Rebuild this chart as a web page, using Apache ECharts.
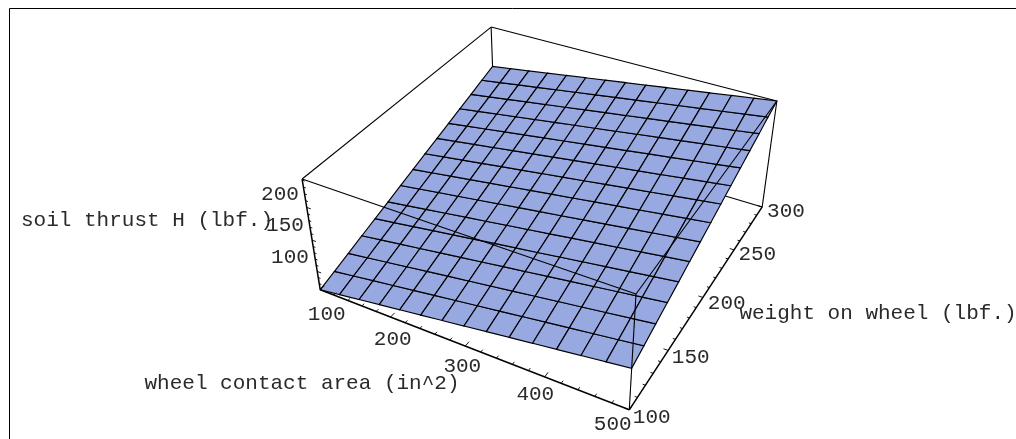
<!DOCTYPE html>
<html>
<head>
<meta charset="utf-8">
<style>html,body{margin:0;padding:0;background:#fff}#c{width:1016px;height:439px}</style>
<script src="https://cdn.jsdelivr.net/npm/echarts@6/dist/echarts.min.js"></script>
</head>
<body>
<div id="c"></div>
<script>
// ---- data ----
const areaValues = [100,128.57,157.14,185.71,214.29,242.86,271.43,300,328.57,357.14,385.71,414.29,442.86,471.43,500];
const weightValues = [100,114.29,128.57,142.86,157.14,171.43,185.71,200,214.29,228.57,242.86,257.14,271.43,285.71,300];
// thrust H: one row per weight value, one column per area value
const thrustRow0 = [69.8,74.4,79.1,83.7,88.4,93.0,97.7,102.3,106.9,111.6,116.2,120.8,125.5,130.1,134.8];
const thrustRow1 = [77.4,82.0,86.7,91.3,96.0,100.6,105.3,109.9,114.5,119.2,123.8,128.4,133.1,137.7,142.4];
const thrustRow2 = [85.0,89.6,94.3,98.9,103.6,108.2,112.9,117.5,122.1,126.8,131.4,136.0,140.7,145.3,150.0];
const thrustRow3 = [92.7,97.3,102.0,106.6,111.3,115.9,120.6,125.2,129.8,134.5,139.1,143.7,148.4,153.0,157.7];
const thrustRow4 = [100.3,104.9,109.6,114.2,118.9,123.5,128.2,132.8,137.4,142.1,146.7,151.3,156.0,160.6,165.3];
const thrustRow5 = [108.0,112.6,117.3,121.9,126.6,131.2,135.9,140.5,145.1,149.8,154.4,159.0,163.7,168.3,173.0];
const thrustRow6 = [115.6,120.2,124.9,129.5,134.2,138.8,143.5,148.1,152.7,157.4,162.0,166.6,171.3,175.9,180.6];
const thrustRow7 = [123.2,127.8,132.5,137.1,141.8,146.4,151.1,155.7,160.3,165.0,169.6,174.2,178.9,183.5,188.2];
const thrustRow8 = [130.9,135.5,140.2,144.8,149.5,154.1,158.8,163.4,168.0,172.7,177.3,181.9,186.6,191.2,195.9];
const thrustRow9 = [138.5,143.1,147.8,152.4,157.1,161.7,166.4,171.0,175.6,180.3,184.9,189.5,194.2,198.8,203.5];
const thrustRow10 = [146.2,150.8,155.5,160.1,164.8,169.4,174.1,178.7,183.3,188.0,192.6,197.2,201.9,206.5,211.2];
const thrustRow11 = [153.8,158.4,163.1,167.7,172.4,177.0,181.7,186.3,190.9,195.6,200.2,204.8,209.5,214.1,218.8];
const thrustRow12 = [161.4,166.0,170.7,175.3,180.0,184.6,189.3,193.9,198.5,203.2,207.8,212.4,217.1,221.7,226.4];
const thrustRow13 = [169.1,173.7,178.4,183.0,187.7,192.3,197.0,201.6,206.2,210.9,215.5,220.1,224.8,229.4,234.1];
const thrustRow14 = [176.7,181.3,186.0,190.6,195.3,199.9,204.6,209.2,213.8,218.5,223.1,227.7,232.4,237.0,241.7];
const thrust = [thrustRow0,thrustRow1,thrustRow2,thrustRow3,thrustRow4,thrustRow5,thrustRow6,thrustRow7,thrustRow8,thrustRow9,thrustRow10,thrustRow11,thrustRow12,thrustRow13,thrustRow14];

const areaTicks = [100,200,300,400,500];
const weightTicks = [100,150,200,250,300];
const thrustTicks = [100,150,200];
const areaMinorTicks = [120,140,160,180,220,240,260,280,320,340,360,380,420,440,460,480];
const weightMinorTicks = [110,120,130,140,160,170,180,190,210,220,230,240,260,270,280,290];
const thrustMinorTicks = [80,90,110,120,130,140,160,170,180,190,210,220,230,240];

const areaTitle = 'wheel contact area (in^2)';
const weightTitle = 'weight on wheel (lbf.)';
const thrustTitle = 'soil thrust H (lbf.)';

const areaRange = [100,500], weightRange = [100,300], thrustRange = [69.8,241.7];

// ---- viewing calibration: where the box in unit coordinates falls on the page ----
const viewAnchors = [
 [0,0,0,320,289.5],[1,0,0,629.3,410.7],[0,0,1,302.3,179],[1,0,1,636,295],
 [1,1,0,762.3,206.7],[1,1,1,776.7,101],[0,1,1,491,26],[0,1,0.622,492.7,67.7],[1,0,0.378,631.7,366.7]
];
function solveView(pts){
  const rows=[],rhs=[];
  pts.forEach(([u,v,w,x,y])=>{
    rows.push([u,v,w,1,0,0,0,0,-x*u,-x*v,-x*w]);rhs.push(x);
    rows.push([0,0,0,0,u,v,w,1,-y*u,-y*v,-y*w]);rhs.push(y);
  });
  const n=11,M=[];
  for(let i=0;i<n;i++){M.push(new Array(n+1).fill(0));
    for(let j=0;j<n;j++)rows.forEach(r=>M[i][j]+=r[i]*r[j]);
    rows.forEach((r,k)=>M[i][n]+=r[i]*rhs[k]);}
  for(let c=0;c<n;c++){
    let p=c;for(let i=c+1;i<n;i++)if(Math.abs(M[i][c])>Math.abs(M[p][c]))p=i;
    [M[c],M[p]]=[M[p],M[c]];
    for(let i=0;i<n;i++){if(i===c)continue;const f=M[i][c]/M[c][c];for(let j=c;j<=n;j++)M[i][j]-=f*M[c][j];}
  }
  return M.map((r,i)=>r[n]/r[i]);
}
const P = solveView(viewAnchors);
function unitProject(u,v,w){
  const d=P[8]*u+P[9]*v+P[10]*w+1;
  return [(P[0]*u+P[1]*v+P[2]*w+P[3])/d,(P[4]*u+P[5]*v+P[6]*w+P[7])/d];
}
const U=a=>(a-areaRange[0])/(areaRange[1]-areaRange[0]);
const V=b=>(b-weightRange[0])/(weightRange[1]-weightRange[0]);
const W=h=>(h-thrustRange[0])/(thrustRange[1]-thrustRange[0]);

const ink='#000', fill='#98a8e0', textInk='#2a2a2a';
const FONT='21px "Liberation Mono", monospace';

// box edges in unit coordinates
const backEdges=[[[0,1,0],[1,1,0]],[[0,0,0],[0,1,0]],[[0,1,0],[0,1,1]],[[0,0,1],[0,1,1]],[[0,1,1],[1,1,1]]];
const frontEdges=[[[0,0,1],[1,0,1]],[[1,0,1],[1,1,1]],[[1,0,0],[1,0,1]],[[1,1,0],[1,1,1]]];
const axisEdges=[[[0,0,0],[0,0,1]],[[0,0,0],[1,0,0]],[[1,0,0],[1,1,0]]];

const tickSegs=[];
const addTicks=(list,len)=>{
  list.a.forEach(a=>tickSegs.push([[U(a),0,0],[U(a),len.v,0]]));
  list.b.forEach(b=>tickSegs.push([[1,V(b),0],[1-len.u,V(b),0]]));
  list.c.forEach(c=>tickSegs.push([[0,0,W(c)],[len.u,0,W(c)]]));
};
addTicks({a:areaTicks,b:weightTicks,c:thrustTicks},{u:0.014,v:0.02});
addTicks({a:areaMinorTicks,b:weightMinorTicks,c:thrustMinorTicks},{u:0.008,v:0.011});

const cells=[];
for(let j=0;j<weightValues.length-1;j++)for(let i=0;i<areaValues.length-1;i++)cells.push([i,j]);

function segSeries(name,segs,width,z){
  return {type:'custom',name,coordinateSystem:'cartesian2d',silent:true,clip:false,z,animation:false,
    data:segs.map((s,i)=>[i]),
    renderItem:(p,api)=>{
      const s=segs[api.value(0)];
      const a=api.coord(unitProject(...s[0])),b=api.coord(unitProject(...s[1]));
      return {type:'line',shape:{x1:a[0],y1:a[1],x2:b[0],y2:b[1]},style:{stroke:ink,lineWidth:width}};
    }};
}
// label entries: text, page centre
const labels=[
 ...areaTicks.map((t,i)=>[String(t),[[326.7,314],[392.7,339],[462.3,366],[535.3,394],[612.7,424]][i]]),
 ...weightTicks.map((t,i)=>[String(t),[[651.7,417],[690.7,357],[726.7,303.3],[757.3,254.3],[786,211.7]][i]]),
 ...thrustTicks.map((t,i)=>[String(t),[[290,257.3],[285,225],[280,194]][i]]),
 [thrustTitle,[147,220.7]],[areaTitle,[302,383]],[weightTitle,[878,313]]
];

const option={
  animation:false,
  backgroundColor:'#fff',
  grid:{left:0,right:0,top:0,bottom:0},
  xAxis:{type:'value',min:0,max:1016,show:false},
  yAxis:{type:'value',min:0,max:439,inverse:true,show:false},
  graphic:[
    {type:'line',shape:{x1:9.5,y1:8.5,x2:1016,y2:8.5},style:{stroke:ink,lineWidth:1}},
    {type:'line',shape:{x1:9.5,y1:8.5,x2:9.5,y2:439},style:{stroke:ink,lineWidth:1}}
  ],
  series:[
    segSeries('box back',backEdges,1.1,1),
    {type:'custom',name:'soil thrust H',coordinateSystem:'cartesian2d',silent:true,clip:false,z:2,animation:false,
     data:cells,
     renderItem:(p,api)=>{
       const i=api.value(0),j=api.value(1);
       const pt=(ii,jj)=>api.coord(unitProject(U(areaValues[ii]),V(weightValues[jj]),W(thrust[jj][ii])));
       return {type:'polygon',shape:{points:[pt(i,j),pt(i+1,j),pt(i+1,j+1),pt(i,j+1)]},
               style:{fill:fill,stroke:ink,lineWidth:1.15}};
     }},
    segSeries('box front',frontEdges,1.1,3),
    segSeries('axes',axisEdges,1.5,3),
    segSeries('ticks',tickSegs,0.9,3),
    {type:'custom',name:'labels',coordinateSystem:'cartesian2d',silent:true,clip:false,z:4,animation:false,
     data:labels.map((l,i)=>[i]),
     renderItem:(p,api)=>{
       const l=labels[api.value(0)],c=api.coord(l[1]);
       return {type:'text',style:{text:l[0],x:c[0],y:c[1],font:FONT,fill:textInk,align:'center',verticalAlign:'middle'}};
     }}
  ]
};
const chart=echarts.init(document.getElementById('c'),null,{renderer:'canvas'});
chart.setOption(option);
</script>
</body>
</html>
